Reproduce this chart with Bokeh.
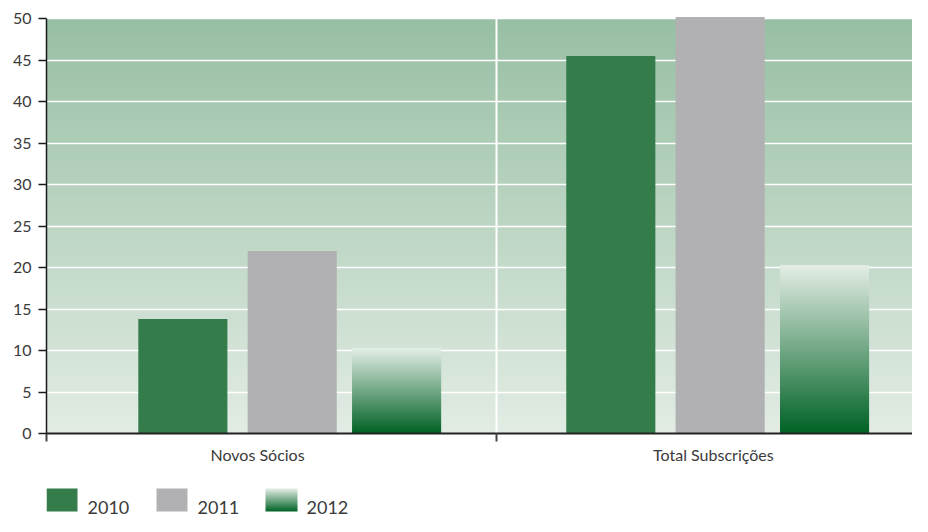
import numpy as np
from bokeh.plotting import figure
from bokeh.models import Range1d, FixedTicker
from bokeh.layouts import column
from bokeh.embed import file_html
from bokeh.resources import INLINE
from bokeh.core.properties import value

# ---- data ----
categories = ["Novos Sócios", "Total Subscrições"]
years = ["2010", "2011", "2012"]
v2010 = [13.8, 45.5]
v2011 = [22.0, 50.2]
v2012 = [10.3, 20.3]
y_ticks = [0, 5, 10, 15, 20, 25, 30, 35, 40, 45, 50]

# ---- style / layout ----
FONT = "Lato"
TXT = "#3a3a3a"
C2010 = "#347d4b"
C2011 = "#b1b1b3"
BG_BOTTOM = (226, 236, 228)
BG_TOP = (151, 191, 163)
G_BOTTOM = (0, 98, 37)
G_TOP = (228, 238, 230)

group_center = [0.546, 1.497]
dodge = [-0.243, 0.0, 0.232]
bar_w = 0.198
label_pos = [0.469, 1.482]
LEFT = 46
TOTAL_W = 912
FRAME_W = TOTAL_W - LEFT
X_END = FRAME_W / 450


def grad_img(bottom, top, n=256, w=4):
    t = np.linspace(0, 1, n)[:, None]
    b = np.array(bottom, dtype=float)
    tp = np.array(top, dtype=float)
    rgb = b * (1 - t) + tp * t
    img = np.empty((n, w), dtype=np.uint32)
    view = img.view(dtype=np.uint8).reshape((n, w, 4))
    for k in range(3):
        view[:, :, k] = np.round(rgb[:, k:k + 1]).astype(np.uint8)
    view[:, :, 3] = 255
    return img


p = figure(width=TOTAL_W, height=466, x_range=Range1d(0, X_END), y_range=Range1d(0, 50.25),
           output_backend="svg", toolbar_location=None,
           min_border_left=LEFT, min_border_right=0, min_border_top=16, min_border_bottom=32)
p.outline_line_color = None
p.background_fill_color = "white"
p.border_fill_color = "white"

# background gradient
p.image_rgba(image=[grad_img(BG_BOTTOM, BG_TOP)], x=0, y=0, dw=X_END, dh=y_ticks[-1], level="image")

# bars
x10 = [g + dodge[0] for g in group_center]
x11 = [g + dodge[1] for g in group_center]
x12 = [g + dodge[2] for g in group_center]
p.vbar(x=x10, top=v2010, width=bar_w, bottom=0, fill_color=C2010, line_color=None)
p.vbar(x=x11, top=v2011, width=bar_w, bottom=0, fill_color=C2011, line_color=None)
gimg = grad_img(G_BOTTOM, G_TOP)
p.image_rgba(image=[gimg, gimg], x=[x - bar_w / 2 for x in x12], y=[0, 0],
             dw=[bar_w, bar_w], dh=v2012)

# grids
p.ygrid.ticker = FixedTicker(ticks=y_ticks[1:])
p.ygrid.grid_line_color = "white"
p.ygrid.grid_line_width = 1.5
p.xgrid.ticker = FixedTicker(ticks=[1])
p.xgrid.grid_line_color = "white"
p.xgrid.grid_line_width = 2

# y axis
p.yaxis.ticker = FixedTicker(ticks=y_ticks)
p.yaxis.bounds = (0, 50)
p.yaxis.axis_line_color = "#1a1a1a"
p.yaxis.axis_line_width = 1.5
p.yaxis.major_tick_out = 8
p.yaxis.major_tick_in = 0
p.yaxis.major_tick_line_color = "#1a1a1a"
p.yaxis.major_tick_line_width = 1.5
p.yaxis.minor_tick_line_color = None
p.yaxis.major_label_text_font = FONT
p.yaxis.major_label_text_font_size = "16px"
p.yaxis.major_label_text_color = TXT
p.yaxis.major_label_standoff = 7

# x axis
p.xaxis.ticker = FixedTicker(ticks=label_pos, minor_ticks=[0, 1, 2])
p.xaxis.major_label_overrides = {label_pos[0]: categories[0], label_pos[1]: categories[1]}
p.xaxis.major_tick_in = 0
p.xaxis.major_tick_out = 0
p.xaxis.minor_tick_in = 0
p.xaxis.minor_tick_out = 8
p.xaxis.minor_tick_line_color = "#444444"
p.xaxis.minor_tick_line_width = 2
p.xaxis.axis_line_color = "#222222"
p.xaxis.axis_line_width = 2
p.xaxis.major_label_text_font = FONT
p.xaxis.major_label_text_font_size = "16px"
p.xaxis.major_label_text_color = TXT
p.xaxis.major_label_standoff = 3

# ---- legend strip (frame aligned with the chart frame) ----
lg = figure(width=TOTAL_W, height=50, x_range=Range1d(0, FRAME_W), y_range=Range1d(0, 50),
            output_backend="svg", toolbar_location=None,
            x_axis_location=None, y_axis_location=None,
            min_border_left=LEFT, min_border_right=0, min_border_top=0, min_border_bottom=0)
lg.grid.visible = False
lg.outline_line_color = None
lg.background_fill_color = "white"
lg.border_fill_color = "white"

sq_left = [0, 110, 219]
sq_w = 31
lg.quad(left=sq_left[0], right=sq_left[0] + sq_w, bottom=5, top=28, fill_color=C2010, line_color=None)
lg.quad(left=sq_left[1], right=sq_left[1] + sq_w, bottom=5, top=28, fill_color=C2011, line_color=None)
lg.image_rgba(image=[grad_img(G_BOTTOM, G_TOP)], x=sq_left[2], y=5, dw=sq_w + 1, dh=23)
lg.text(x=[s + 41 for s in sq_left], y=[3, 3, 3], text=years, text_font=value(FONT),
        text_font_size=value("18px"), text_color=TXT, text_baseline="bottom")

layout = column(p, lg, spacing=0)
open("out.html", "w").write(file_html(layout, INLINE))
